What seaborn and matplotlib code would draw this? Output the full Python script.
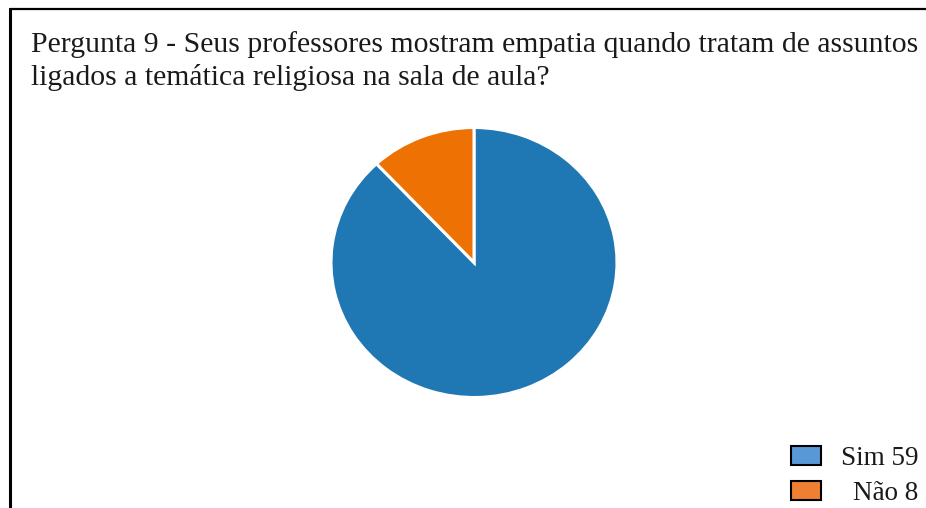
import matplotlib
matplotlib.use("Agg")
import matplotlib.pyplot as plt
from matplotlib.lines import Line2D
from matplotlib.patches import Patch
import seaborn as sns

# Survey answers
categories = ["Sim", "Não"]
counts = [59, 8]
title = ("Pergunta 9 - Seus professores mostram empatia quando tratam de assuntos\n"
         "ligados a temática religiosa na sala de aula?")

sns.set_theme(style="white")
plt.rcParams["font.family"] = ["Liberation Serif", "DejaVu Serif"]

pie_colors = ["#1f77b4", "#ee7203"]
legend_colors = ["#5898d6", "#ef7f33"]

W, H = 926, 508
fig = plt.figure(figsize=(W / 100, H / 100), dpi=100)

# pie axes: centre (474, 262.5) px, radii 143 x 135 px (slightly wide pie)
cx, cy, rx, ry = 474, 262.5, 143, 135
ax = fig.add_axes([(cx - rx) / W, (H - cy - ry) / H, 2 * rx / W, 2 * ry / H])
ax.pie(counts, colors=pie_colors, startangle=90, counterclock=False,
       wedgeprops=dict(edgecolor="white", linewidth=2.2))
ax.set_aspect("auto")
ax.set_xlim(-1.0, 1.0)
ax.set_ylim(-1.0, 1.0)
ax.axis("off")

# title (baseline of the last line)
fig.text(31 / W, 1 - 85 / H, title, ha="left", va="baseline",
         fontsize=21.45, color="#1a1a1a", linespacing=1.28)

# frame lines (left and top)
fig.add_artist(Line2D([10 / W, 10 / W], [0, 1 - 9 / H], color="black",
                      linewidth=2.2, transform=fig.transFigure))
fig.add_artist(Line2D([10 / W, 1.0], [1 - 9 / H, 1 - 9 / H], color="black",
                      linewidth=1.6, transform=fig.transFigure))

# legend
handles = [Patch(facecolor=c, edgecolor="black", linewidth=1.5) for c in legend_colors]
labels = [f"{c} {n}" for c, n in zip(categories, counts)]
leg = fig.legend(handles, labels, loc="upper left",
                 bbox_to_anchor=(791 / W, 1 - 446 / H),
                 bbox_transform=fig.transFigure, frameon=False,
                 fontsize=19.5, handlelength=1.1, handleheight=0.7,
                 handletextpad=0.75, labelspacing=0.38, borderpad=0,
                 borderaxespad=0)
for t in leg.get_texts():
    t.set_color("#1a1a1a")

# right-align the label texts inside the legend
fig.canvas.draw()
renderer = fig.canvas.get_renderer()
texts = leg.get_texts()
widths = [t.get_window_extent(renderer).width for t in texts]
wmax = max(widths)
for t, w in zip(texts, widths):
    t.set_x(wmax - w)

fig.savefig("out.png", dpi=100)
